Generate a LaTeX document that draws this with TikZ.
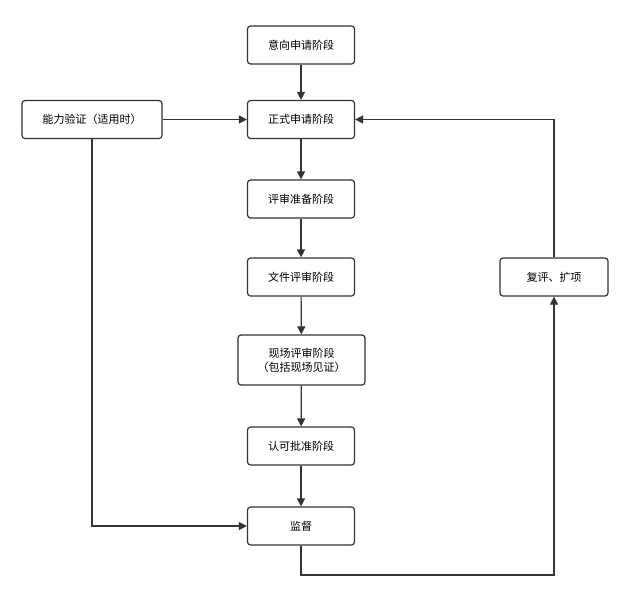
\documentclass[tikz,border=0pt]{standalone}
\usepackage{fontspec}
\setmainfont{Noto Sans CJK SC}
\usetikzlibrary{arrows.meta}
\begin{document}
\begin{tikzpicture}[x=1pt,y=-1pt,
  box/.style={draw=black!80,line width=1.2pt,rounded corners=3pt,fill=white,minimum width=107pt,minimum height=38pt,font=\fontsize{11}{14}\selectfont,align=center,inner sep=2pt},
  arr/.style={draw=black!80,line width=1.2pt,-{Triangle[length=8pt,width=8pt]}}]
\useasboundingbox (0,0) rectangle (634,600);
\node[box] (a) at (301,45) {意向申请阶段};
\node[box] (b) at (301,119.5) {正式申请阶段};
\node[box] (c) at (301,199) {评审准备阶段};
\node[box] (d) at (301,277) {文件评审阶段};
\node[box,minimum width=127pt,minimum height=50pt] (e) at (301.5,360) {现场评审阶段\\（包括现场见证）};
\node[box] (f) at (301,446) {认可批准阶段};
\node[box] (g) at (301,526) {监督};
\node[box,minimum width=140pt] (p) at (92,119.5) {能力验证（适用时）};
\node[box,minimum width=108pt] (r) at (554,277) {复评、扩项};
\draw[arr] (a) -- (b);
\draw[arr] (b) -- (c);
\draw[arr] (c) -- (d);
\draw[arr] (d) -- (e);
\draw[arr] (e) -- (f);
\draw[arr] (f) -- (g);
\draw[arr] (p) -- (b);
\draw[arr] (p.south) |- (g.west);
\coordinate (k) at (554,575);
\draw[arr] (g.south) |- (k) -- (r.south);
\draw[arr] (r.north) |- (b.east);
\end{tikzpicture}
\end{document}
